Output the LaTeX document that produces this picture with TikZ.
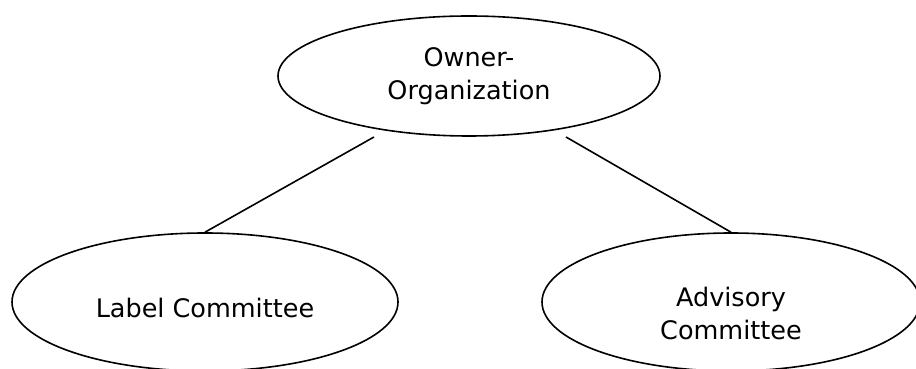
\documentclass[tikz,border=0pt]{standalone}
\usepackage{fontspec}
\setmainfont{DejaVu Sans}
\usetikzlibrary{shapes.geometric}

\begin{document}
\begin{tikzpicture}[
    x=1pt, y=1pt,
    bubble/.style={ellipse, draw, line width=1.6pt, inner sep=0pt},
    caption/.style={align=center, font=\fontsize{25.5}{33}\selectfont},
    link/.style={line width=1.6pt}
]
\useasboundingbox (0,0) rectangle (916,369);

\node[bubble, minimum width=382pt, minimum height=120pt] (owner) at (469,293) {};
\node[bubble, minimum width=386pt, minimum height=138pt] (label) at (205,67) {};
\node[bubble, minimum width=378pt, minimum height=138pt] (advisory) at (731,67) {};

\node[caption] (ownertxt) at (owner) {Owner-\\Organization};
\node[caption] (labeltxt) at ([yshift=-6pt]label.center) {Label Committee};
\node[caption] (advisorytxt) at ([yshift=-11pt]advisory.center) {Advisory\\Committee};

% short stubs under the top ellipse
\coordinate (ownerleft) at (374,232);
\coordinate (ownerright) at (566,232);

\draw[link] (ownerleft) -- (label.north);
\draw[link] (ownerright) -- (advisory.north);

\end{tikzpicture}
\end{document}
